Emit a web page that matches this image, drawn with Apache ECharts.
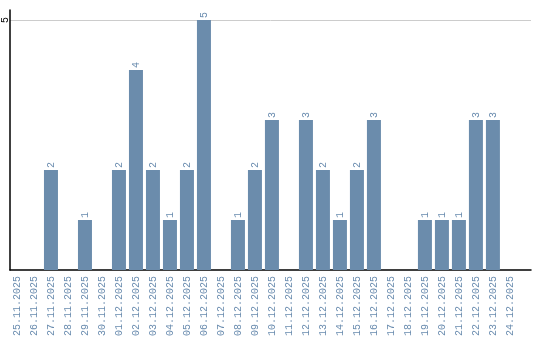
<!DOCTYPE html>
<html>
<head>
<meta charset="utf-8">
<script src="https://cdn.jsdelivr.net/npm/echarts@6/dist/echarts.min.js"></script>
<style>html,body{margin:0;padding:0;background:#fff}#c{width:540px;height:340px}</style>
</head>
<body>
<div id="c"></div>
<script>
const categories = ["25.11.2025","26.11.2025","27.11.2025","28.11.2025","29.11.2025","30.11.2025","01.12.2025","02.12.2025","03.12.2025","04.12.2025","05.12.2025","06.12.2025","07.12.2025","08.12.2025","09.12.2025","10.12.2025","11.12.2025","12.12.2025","13.12.2025","14.12.2025","15.12.2025","16.12.2025","17.12.2025","18.12.2025","19.12.2025","20.12.2025","21.12.2025","22.12.2025","23.12.2025","24.12.2025"];
const values = [0,0,2,0,1,0,2,4,2,1,2,5,0,1,2,3,0,3,2,1,2,3,0,0,1,1,1,3,3,0];
const yTicks = [5];

const FONT = 'Liberation Mono';
const TXT = '#6a8caf';
const BAR = '#6b8cac';

const chart = echarts.init(document.getElementById('c'), null, {renderer: 'canvas'});
const idx = categories.map((c, i) => i);
chart.setOption({
  animation: false,
  grid: {left: 10, right: 9, top: 10, bottom: 70, containLabel: false, outerBoundsMode: 'none'},
  xAxis: {
    type: 'value',
    min: -0.41,
    max: 30.24,
    axisLine: {show: true, onZero: false, lineStyle: {color: '#000', width: 1.5}},
    axisTick: {show: false},
    splitLine: {show: false},
    axisLabel: {
      customValues: idx,
      rotate: 90,
      margin: 6,
      fontFamily: FONT,
      fontSize: 10,
      color: TXT,
      formatter: v => categories[Math.round(v)] || ''
    }
  },
  yAxis: {
    type: 'value',
    min: 0,
    max: 5.2,
    interval: 5,
    axisLine: {show: true, onZero: false, lineStyle: {color: '#000', width: 1.5}},
    axisTick: {show: false},
    splitLine: {show: true, showMinLine: false, showMaxLine: false, lineStyle: {color: '#cccccc', width: 1}},
    axisLabel: {
      customValues: yTicks,
      rotate: 90,
      margin: 0,
      fontFamily: FONT,
      fontSize: 10,
      color: '#000'
    }
  },
  series: [{
    type: 'bar',
    barWidth: 14,
    data: values.map((v, i) => [i, v]),
    itemStyle: {color: BAR},
    label: {
      show: true,
      position: 'top',
      rotate: 90,
      align: 'left',
      verticalAlign: 'middle',
      distance: 2,
      fontFamily: FONT,
      fontSize: 10,
      color: TXT,
      formatter: p => p.value[1] ? String(p.value[1]) : ''
    }
  }]
});
</script>
</body>
</html>
